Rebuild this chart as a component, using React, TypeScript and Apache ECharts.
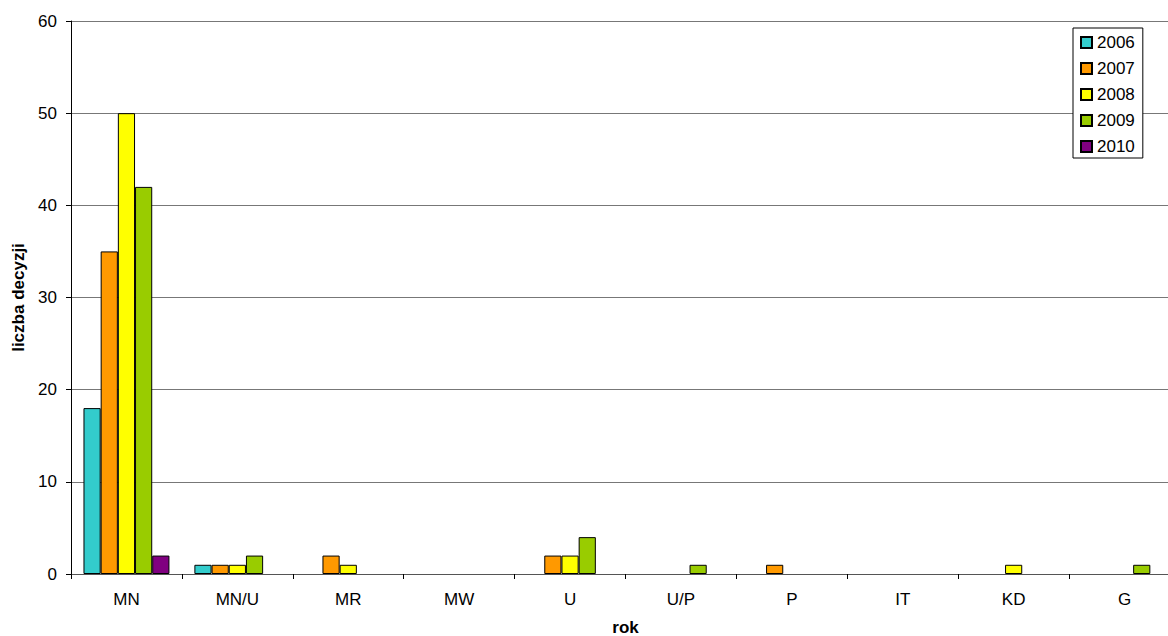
import React, { useEffect, useRef } from "react";
import * as echarts from "echarts";

const categories = ["MN", "MN/U", "MR", "MW", "U", "U/P", "P", "IT", "KD", "G"];
const years = ["2006", "2007", "2008", "2009", "2010"];
const v2006 = [18, 1, 0, 0, 0, 0, 0, 0, 0, 0];
const v2007 = [35, 1, 2, 0, 2, 0, 1, 0, 0, 0];
const v2008 = [50, 1, 1, 0, 2, 0, 0, 0, 1, 0];
const v2009 = [42, 2, 0, 0, 4, 1, 0, 0, 0, 1];
const v2010 = [2, 0, 0, 0, 0, 0, 0, 0, 0, 0];
const colors = ["#33CCCC", "#FF9900", "#FFFF00", "#99CC00", "#800080"];
const yTicks = [0, 10, 20, 30, 40, 50, 60];

const FONT = "Arial, 'Liberation Sans', sans-serif";

export default function App() {
  const ref = useRef<HTMLDivElement>(null);
  useEffect(() => {
    if (!ref.current) return;
    const chart = echarts.init(ref.current, null, { renderer: "svg" });
    const values = [v2006, v2007, v2008, v2009, v2010];
    chart.setOption({
      animation: false,
      backgroundColor: "#ffffff",
      textStyle: { fontFamily: FONT, color: "#000" },
      grid: { left: 71, right: 2, top: 21, bottom: 62, containLabel: false, outerBoundsMode: "none" },
      legend: {
        orient: "vertical",
        left: 1073,
        top: 28,
        padding: [6, 8, 3, 7],
        itemWidth: 11,
        itemHeight: 11,
        itemGap: 9,
        icon: "rect",
        borderColor: "#000",
        borderWidth: 1,
        backgroundColor: "#fff",
        textStyle: { fontSize: 17, fontFamily: FONT, color: "#000" },
        data: years,
      },
      xAxis: {
        type: "category",
        data: categories,
        name: "rok",
        nameLocation: "middle",
        nameGap: 45,
        nameTextStyle: { fontSize: 17, fontWeight: "bold", fontFamily: FONT, color: "#000" },
        axisLine: { lineStyle: { color: "#555", width: 1 } },
        axisTick: { show: true, length: 5, inside: false, lineStyle: { color: "#000" } },
        axisLabel: { fontSize: 17, color: "#000", margin: 17, fontFamily: FONT },
      },
      yAxis: {
        type: "value",
        min: 0,
        max: 60,
        interval: 10,
        name: "liczba decyzji",
        nameLocation: "middle",
        nameGap: 37,
        nameTextStyle: { fontSize: 17, fontWeight: "bold", fontFamily: FONT, color: "#000" },
        axisLine: { show: true, lineStyle: { color: "#000", width: 1 } },
        axisTick: { show: true, length: 5, lineStyle: { color: "#000" } },
        axisLabel: {
          fontSize: 17,
          color: "#000",
          margin: 14,
          fontFamily: FONT,
          formatter: (v: number) => (yTicks.includes(v) ? String(v) : ""),
        },
        splitLine: { show: true, lineStyle: { color: "#777", width: 1 } },
      },
      series: years.map((y, i) => ({
        name: y,
        type: "bar",
        data: values[i].map((v) =>
          v === 0 ? { value: v, itemStyle: { borderWidth: 0, opacity: 0 } } : v
        ),
        barGap: "0%",
        barCategoryGap: "22.5%",
        itemStyle: { color: colors[i], borderColor: "#000", borderWidth: 1 },
      })),
    });
    return () => chart.dispose();
  }, []);
  return (
    <div style={{ position: "absolute", left: 0, top: 0, width: 1168, height: 636, overflow: "hidden", background: "#fff" }}>
      <div ref={ref} style={{ width: 1182, height: 636 }} />
    </div>
  );
}
